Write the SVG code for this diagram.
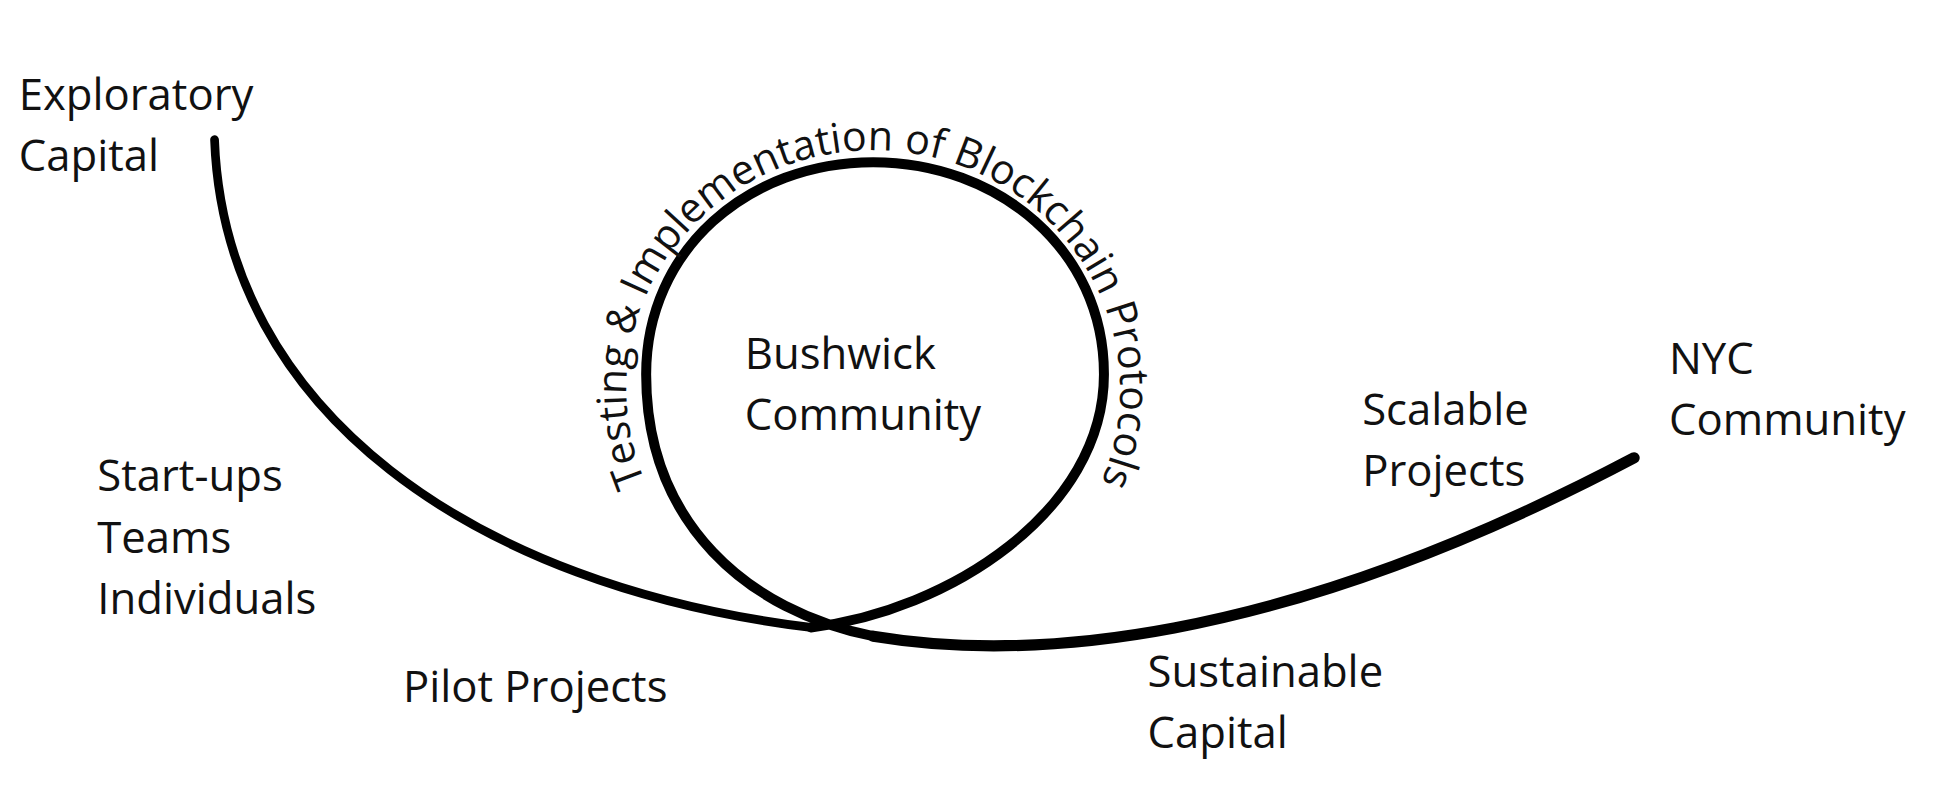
<svg xmlns="http://www.w3.org/2000/svg" width="1946" height="810" viewBox="0 0 1946 810">
<style>
text{font-family:"Open Sans","Noto Sans",sans-serif;font-size:35px;fill:#111}
.arc{font-size:33px}
.ln{fill:none;stroke:#000;stroke-linecap:round}
</style>
<defs><path id="arc" d="M552,440 A198,192 0 1 1 848,440"/></defs>
<rect width="1946" height="810" fill="#fff"/>
<g transform="scale(1.2474)">
<g id="connectors">
<path class="ln" stroke-width="7" d="M172,112 C180,330 380,470 650,503"/>
<path class="ln" stroke-width="8" d="M650,503 C760,490 885,410 885,300 C885,200 800,130 700,130 C600,130 518,200 518,300 C518,420 600,490 700,510"/>
<path class="ln" stroke-width="9" d="M700,510 C820,530 1020,520 1310,367"/>
</g>
<g id="arc-label"><text class="arc"><textPath href="#arc" startOffset="50%" text-anchor="middle">Testing &amp; Implementation of Blockchain Protocols</textPath></text></g>
<g id="exploratory"><text x="15" y="88">Exploratory</text><text x="15" y="137">Capital</text></g>
<g id="startups"><text x="78" y="394">Start-ups</text><text x="78" y="443">Teams</text><text x="78" y="492">Individuals</text></g>
<g id="pilot"><text x="323" y="563">Pilot Projects</text></g>
<g id="bushwick"><text x="597" y="296">Bushwick</text><text x="597" y="345">Community</text></g>
<g id="scalable"><text x="1092" y="341">Scalable</text><text x="1092" y="390">Projects</text></g>
<g id="nyc"><text x="1338" y="300">NYC</text><text x="1338" y="349">Community</text></g>
<g id="sustainable"><text x="920" y="551">Sustainable</text><text x="920" y="600">Capital</text></g>
</g>
</svg>
